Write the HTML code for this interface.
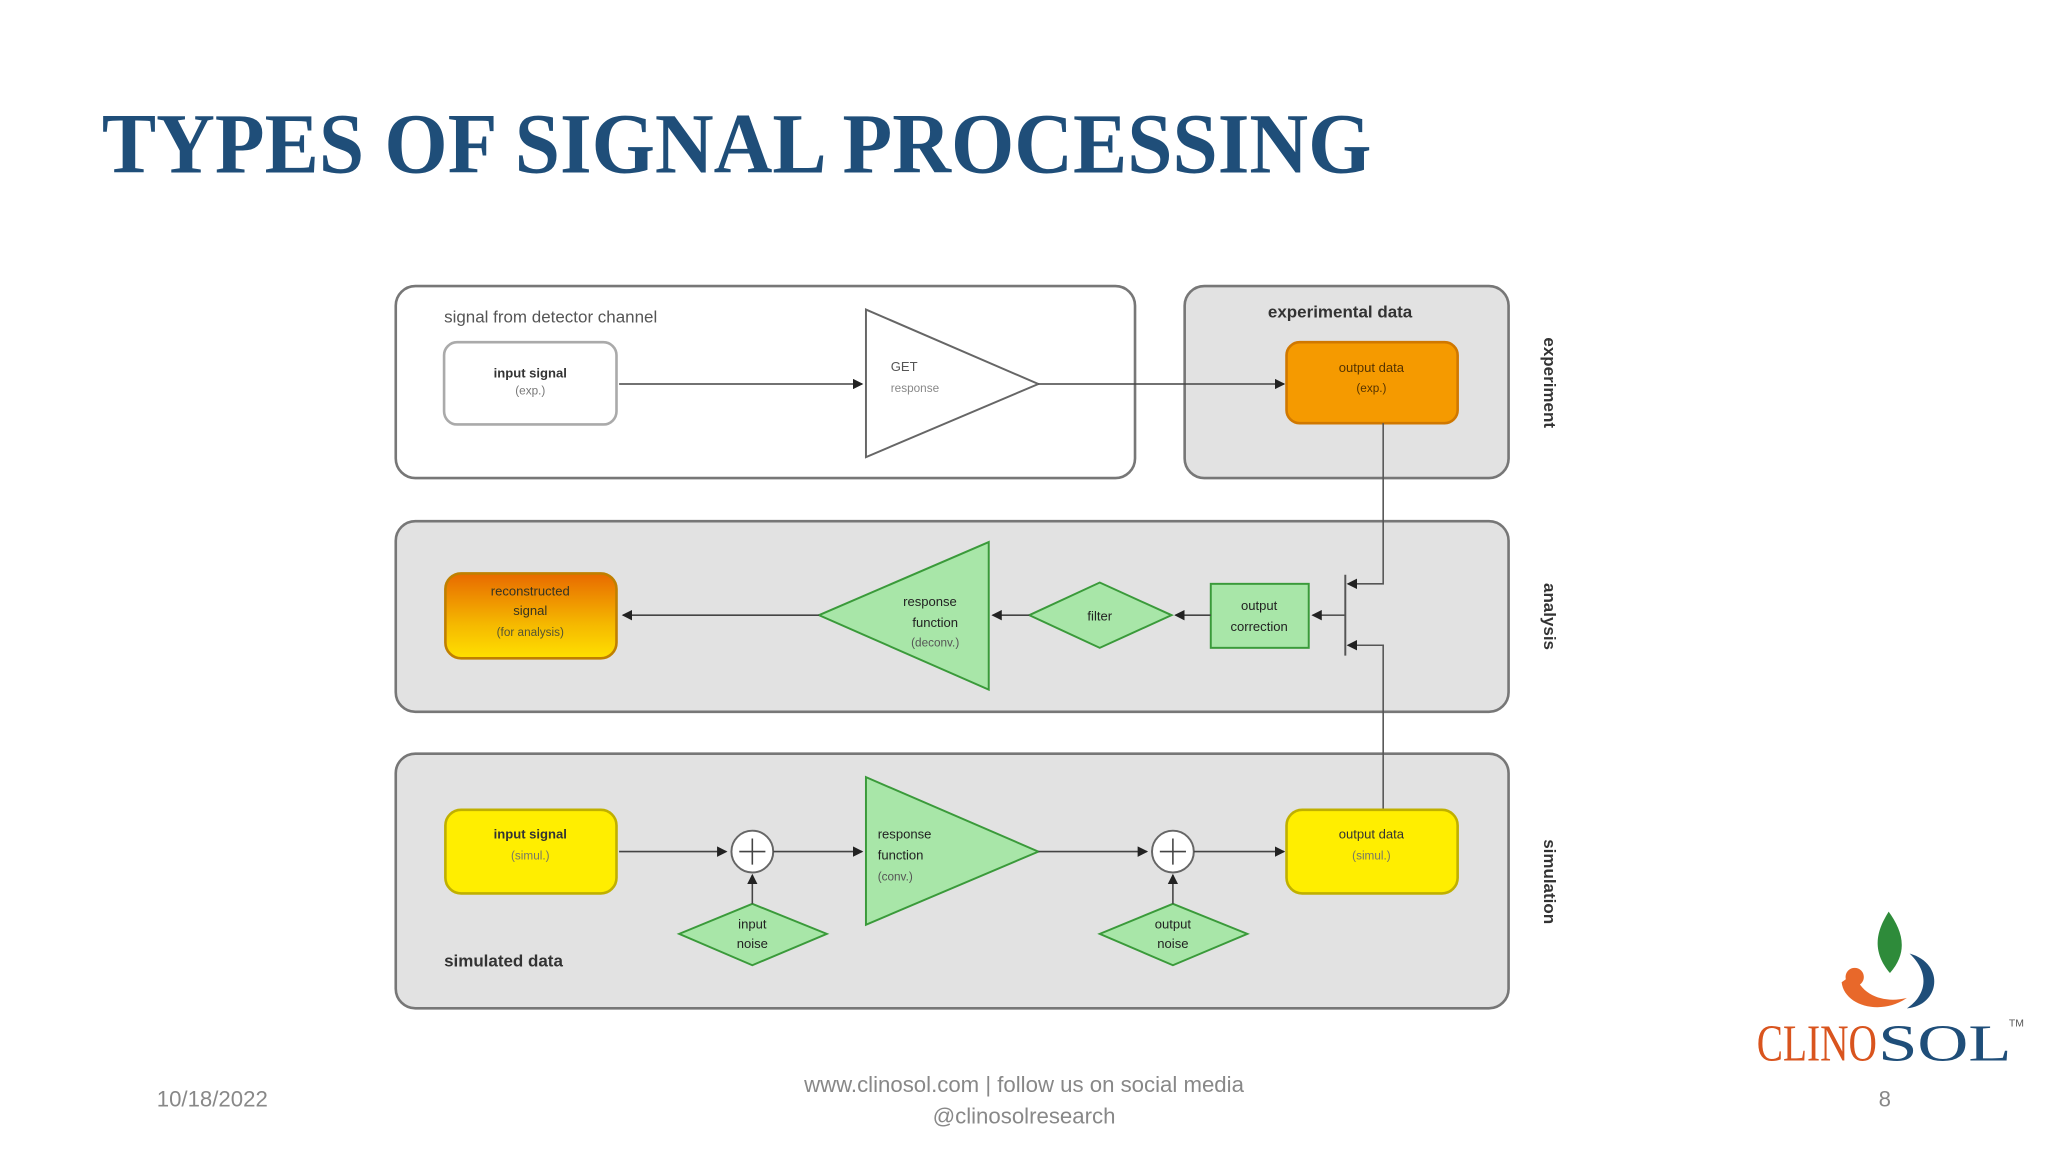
<!DOCTYPE html>
<html><head><meta charset="utf-8"><style>
html,body{margin:0;padding:0;background:#fff;}
svg{display:block}
</style></head><body>
<svg width="2048" height="1152" viewBox="0 0 1568 882" xmlns="http://www.w3.org/2000/svg" font-family="Liberation Sans, sans-serif">
<defs>
<marker id="a" markerWidth="8" markerHeight="8" refX="7" refY="4" orient="auto" markerUnits="userSpaceOnUse"><path d="M0,0 L8,4 L0,8z" fill="#222"/></marker>
<linearGradient id="og" x1="0" y1="0" x2="0" y2="1"><stop offset="0" stop-color="#e86a00"/><stop offset="0.6" stop-color="#f5b800"/><stop offset="1" stop-color="#ffe000"/></linearGradient>
</defs>
<rect width="1568" height="882" fill="#fff"/>
<text x="78" y="132" font-family="Liberation Serif, serif" font-weight="bold" font-size="66" fill="#1f4e79" textLength="972" lengthAdjust="spacingAndGlyphs">TYPES OF SIGNAL PROCESSING</text>

<!-- boxes -->
<rect x="303" y="219" width="566" height="147" rx="15" fill="#fff" stroke="#777" stroke-width="2"/>
<rect x="907" y="219" width="248" height="147" rx="15" fill="#e2e2e2" stroke="#777" stroke-width="2"/>
<rect x="303" y="399" width="852" height="146" rx="15" fill="#e2e2e2" stroke="#777" stroke-width="2"/>
<rect x="303" y="577" width="852" height="195" rx="15" fill="#e2e2e2" stroke="#777" stroke-width="2"/>

<g font-size="13" fill="#555">
<text x="340" y="247">signal from detector channel</text>
</g>
<text x="1026" y="243" font-size="13" font-weight="bold" fill="#333" text-anchor="middle">experimental data</text>
<text x="340" y="740" font-size="13" font-weight="bold" fill="#333">simulated data</text>

<g font-size="13" font-weight="bold" fill="#333">
<text transform="translate(1182,293) rotate(90)" text-anchor="middle">experiment</text>
<text transform="translate(1182,472) rotate(90)" text-anchor="middle">analysis</text>
<text transform="translate(1182,675) rotate(90)" text-anchor="middle">simulation</text>
</g>

<!-- row1 -->
<rect x="340" y="262" width="132" height="63" rx="10" fill="#fff" stroke="#aaa" stroke-width="2"/>
<text x="406" y="289" font-size="10" font-weight="bold" text-anchor="middle" fill="#333">input signal</text>
<text x="406" y="302" font-size="9" text-anchor="middle" fill="#777">(exp.)</text>
<line x1="474" y1="294" x2="660" y2="294" stroke="#444" stroke-width="1.2" marker-end="url(#a)"/>
<path d="M663,237 L795,294 L663,350z" fill="#fff" stroke="#666" stroke-width="1.5"/>
<text x="682" y="284" font-size="10" fill="#555">GET</text>
<text x="682" y="300" font-size="9" fill="#888">response</text>
<line x1="795" y1="294" x2="983" y2="294" stroke="#444" stroke-width="1.2" marker-end="url(#a)"/>
<rect x="985" y="262" width="131" height="62" rx="10" fill="#f59a00" stroke="#d07800" stroke-width="2"/>
<text x="1050" y="285" font-size="10" text-anchor="middle" fill="#553300">output data</text>
<text x="1050" y="300" font-size="9" text-anchor="middle" fill="#553300">(exp.)</text>

<!-- vertical connector -->
<polyline points="1059,324 1059,447 1032,447" fill="none" stroke="#555" stroke-width="1.2" marker-end="url(#a)"/>
<polyline points="1059,621 1059,494 1032,494" fill="none" stroke="#555" stroke-width="1.2" marker-end="url(#a)"/>
<line x1="1030" y1="440" x2="1030" y2="502" stroke="#555" stroke-width="1.5"/>
<line x1="1030" y1="471" x2="1005" y2="471" stroke="#555" stroke-width="1.2" marker-end="url(#a)"/>

<!-- row2 -->
<rect x="927" y="447" width="75" height="49" fill="#a8e6a8" stroke="#3a9a3a" stroke-width="1.5"/>
<text x="964" y="467" font-size="10" text-anchor="middle" fill="#222">output</text>
<text x="964" y="483" font-size="10" text-anchor="middle" fill="#222">correction</text>
<line x1="927" y1="471" x2="900" y2="471" stroke="#444" stroke-width="1.2" marker-end="url(#a)"/>
<path d="M788,471 L842,446 L897,471 L842,496z" fill="#a8e6a8" stroke="#3a9a3a" stroke-width="1.5"/>
<text x="842" y="475" font-size="10" text-anchor="middle" fill="#222">filter</text>
<line x1="788" y1="471" x2="760" y2="471" stroke="#444" stroke-width="1.2" marker-end="url(#a)"/>
<path d="M757,415 L627,471 L757,528z" fill="#a8e6a8" stroke="#3a9a3a" stroke-width="1.5"/>
<text x="712" y="464" font-size="10" text-anchor="middle" fill="#222">response</text>
<text x="716" y="480" font-size="10" text-anchor="middle" fill="#222">function</text>
<text x="716" y="495" font-size="9" text-anchor="middle" fill="#555">(deconv.)</text>
<line x1="627" y1="471" x2="477" y2="471" stroke="#444" stroke-width="1.2" marker-end="url(#a)"/>
<rect x="341" y="439" width="131" height="65" rx="12" fill="url(#og)" stroke="#c08000" stroke-width="2"/>
<text x="406" y="456" font-size="10" text-anchor="middle" fill="#332">reconstructed</text>
<text x="406" y="471" font-size="10" text-anchor="middle" fill="#332">signal</text>
<text x="406" y="487" font-size="9" text-anchor="middle" fill="#553">(for analysis)</text>

<!-- row3 -->
<rect x="341" y="620" width="131" height="64" rx="12" fill="#ffee00" stroke="#c0b000" stroke-width="2"/>
<text x="406" y="642" font-size="10" font-weight="bold" text-anchor="middle" fill="#333">input signal</text>
<text x="406" y="658" font-size="9" text-anchor="middle" fill="#776">(simul.)</text>
<line x1="474" y1="652" x2="556" y2="652" stroke="#444" stroke-width="1.2" marker-end="url(#a)"/>
<circle cx="576" cy="652" r="16" fill="#fff" stroke="#666" stroke-width="1.5"/>
<path d="M566,652 H586 M576,642 V662" stroke="#444" stroke-width="1.2"/>
<line x1="592" y1="652" x2="660" y2="652" stroke="#444" stroke-width="1.2" marker-end="url(#a)"/>
<path d="M663,595 L795,652 L663,708z" fill="#a8e6a8" stroke="#3a9a3a" stroke-width="1.5"/>
<text x="672" y="642" font-size="10" fill="#222">response</text>
<text x="672" y="658" font-size="10" fill="#222">function</text>
<text x="672" y="674" font-size="9" fill="#555">(conv.)</text>
<line x1="795" y1="652" x2="878" y2="652" stroke="#444" stroke-width="1.2" marker-end="url(#a)"/>
<circle cx="898" cy="652" r="16" fill="#fff" stroke="#666" stroke-width="1.5"/>
<path d="M888,652 H908 M898,642 V662" stroke="#444" stroke-width="1.2"/>
<line x1="914" y1="652" x2="983" y2="652" stroke="#444" stroke-width="1.2" marker-end="url(#a)"/>
<rect x="985" y="620" width="131" height="64" rx="12" fill="#ffee00" stroke="#c0b000" stroke-width="2"/>
<text x="1050" y="642" font-size="10" text-anchor="middle" fill="#333">output data</text>
<text x="1050" y="658" font-size="9" text-anchor="middle" fill="#776">(simul.)</text>
<path d="M520,715 L576,692 L633,715 L576,739z" fill="#a8e6a8" stroke="#3a9a3a" stroke-width="1.5"/>
<text x="576" y="711" font-size="10" text-anchor="middle" fill="#222">input</text>
<text x="576" y="726" font-size="10" text-anchor="middle" fill="#222">noise</text>
<line x1="576" y1="692" x2="576" y2="670" stroke="#444" stroke-width="1.2" marker-end="url(#a)"/>
<path d="M842,715 L898,692 L955,715 L898,739z" fill="#a8e6a8" stroke="#3a9a3a" stroke-width="1.5"/>
<text x="898" y="711" font-size="10" text-anchor="middle" fill="#222">output</text>
<text x="898" y="726" font-size="10" text-anchor="middle" fill="#222">noise</text>
<line x1="898" y1="692" x2="898" y2="670" stroke="#444" stroke-width="1.2" marker-end="url(#a)"/>

<!-- footer -->
<g font-size="17" fill="#888">
<text x="120" y="847">10/18/2022</text>
<text x="784" y="836" text-anchor="middle">www.clinosol.com | follow us on social media</text>
<text x="784" y="860" text-anchor="middle">@clinosolresearch</text>
<text x="1443" y="847" text-anchor="middle">8</text>
</g>
<!-- logo -->
<path d="M1447,745 C1430,725 1440,708 1446,698 C1456,712 1462,728 1447,745z" fill="#2e8b3a"/>
<path d="M1410,752 C1412,770 1440,778 1460,764 C1445,768 1425,764 1420,745z" fill="#e8682a"/>
<path d="M1462,730 C1490,738 1485,770 1460,772 C1475,762 1478,745 1462,730z" fill="#1f4e79"/>
<circle cx="1420" cy="748" r="7" fill="#e8682a"/>
<text x="1345" y="812" font-family="Liberation Serif, serif" font-size="40" fill="#d9541e" textLength="92" lengthAdjust="spacingAndGlyphs">CLINO</text>
<text x="1438" y="812" font-family="Liberation Serif, serif" font-size="40" fill="#1f4e79" textLength="102" lengthAdjust="spacingAndGlyphs">SOL</text>
<text x="1538" y="786" font-size="8" fill="#555">TM</text>
</svg>
</body></html>
